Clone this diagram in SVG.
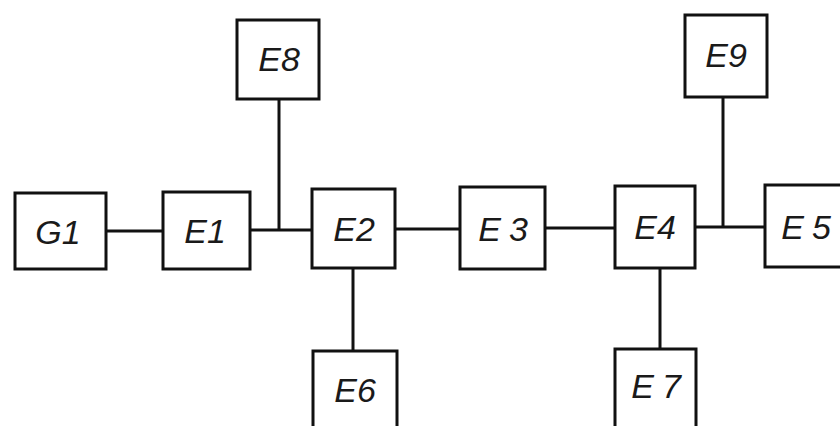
<svg xmlns="http://www.w3.org/2000/svg" width="840" height="426" viewBox="0 0 840 426">
<style>
.box{fill:#fff;stroke:#111;stroke-width:3}
.ln{stroke:#111;stroke-width:3;fill:none}
.lb{font-family:"Liberation Sans",Arial,sans-serif;font-style:italic;font-size:34px;fill:#1a1a1a;text-anchor:middle}
.wide{letter-spacing:8px}
</style>
<rect width="840" height="426" fill="#fff"/>
<g id="connectors">
<line class="ln" x1="106" y1="231" x2="163" y2="231"/>
<line class="ln" x1="250" y1="230" x2="312" y2="230"/>
<line class="ln" x1="279" y1="99" x2="279" y2="230"/>
<line class="ln" x1="395" y1="229" x2="460" y2="229"/>
<line class="ln" x1="545" y1="228" x2="615" y2="228"/>
<line class="ln" x1="695" y1="227" x2="765" y2="227"/>
<line class="ln" x1="723" y1="97" x2="723" y2="227"/>
<line class="ln" x1="353" y1="268" x2="353" y2="351"/>
<line class="ln" x1="660" y1="268" x2="660" y2="349"/>
</g>
<g id="G1"><rect class="box" x="15" y="193" width="91" height="76"/><text class="lb" x="58" y="244">G1</text></g>
<g id="E1"><rect class="box" x="163" y="192" width="87" height="77"/><text class="lb" x="205" y="243">E1</text></g>
<g id="E8"><rect class="box" x="237" y="20" width="82" height="79"/><text class="lb" x="279" y="71">E8</text></g>
<g id="E2"><rect class="box" x="312" y="189" width="83" height="79"/><text class="lb" x="354" y="241">E2</text></g>
<g id="E3"><rect class="box" x="460" y="187" width="85" height="82"/><text class="lb wide" x="507" y="241">E3</text></g>
<g id="E4"><rect class="box" x="615" y="186" width="80" height="82"/><text class="lb" x="655" y="239">E4</text></g>
<g id="E5"><rect class="box" x="765" y="185" width="84" height="82"/><text class="lb wide" x="810" y="239">E5</text></g>
<g id="E9"><rect class="box" x="685" y="15" width="82" height="82"/><text class="lb" x="726" y="67">E9</text></g>
<g id="E6"><rect class="box" x="313" y="351" width="84" height="82"/><text class="lb" x="355" y="402">E6</text></g>
<g id="E7"><rect class="box" x="615" y="349" width="81" height="82"/><text class="lb wide" x="660" y="398">E7</text></g>
</svg>
